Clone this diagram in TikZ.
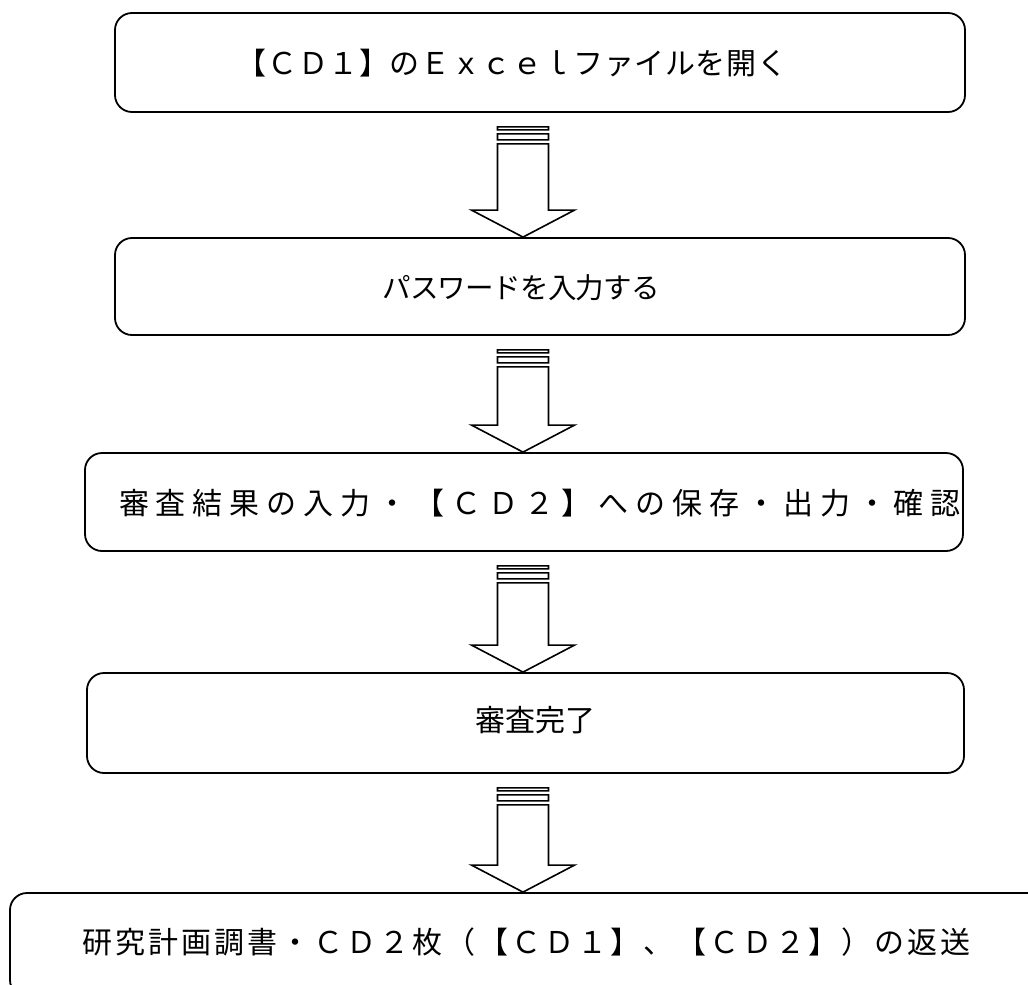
\documentclass[tikz,border=0pt]{standalone}
\usepackage{fontspec}
\newfontfamily\jp{Noto Sans CJK JP}
\usetikzlibrary{calc}
\tikzset{
  stepbox/.style={draw=black, line width=1.8pt, rounded corners=17pt, inner sep=0pt},
  steptext/.style={inner sep=0pt, font=\jp\fontsize{30}{32}\selectfont},
  flowline/.style={draw=black, line width=1.6pt, fill=white, line join=miter},
}
\newcommand\flowarrow[2]{%
  \draw[flowline] let \p1=(ax |- #1.south), \p2=(ax |- #2.north) in
    (\x1-25.5pt,\y1-14pt) rectangle (\x1+25.5pt,\y1-17pt)
    (\x1-25.5pt,\y1-21pt) rectangle (\x1+25.5pt,\y1-27pt)
    (\x1-25.5pt,\y1-31pt) -- (\x1-25.5pt,\y2+27pt) -- (\x1-51.5pt,\y2+27pt)
    -- (\x2,\y2) -- (\x1+51.5pt,\y2+27pt) -- (\x1+25.5pt,\y2+27pt)
    -- (\x1+25.5pt,\y1-31pt) -- cycle;}
\begin{document}
\begin{tikzpicture}[x=1pt,y=-1pt]
\useasboundingbox (0,0) rectangle (1028,985);
\coordinate (ax) at (523,0);
\node[stepbox, minimum width=850pt, minimum height=99pt] (b1) at (540,62.5) {};
\node[stepbox, minimum width=850pt, minimum height=97pt] (b2) at (540,286.5) {};
\node[stepbox, minimum width=878pt, minimum height=98pt] (b3) at (524,502) {};
\node[stepbox, minimum width=877pt, minimum height=100pt] (b4) at (525.5,723) {};
\begin{scope}
\clip (0,0) rectangle (1028,985);
\node[stepbox, minimum width=1040pt, minimum height=104pt] (b5) at (530,945) {};
\end{scope}
\node[steptext] (t1) at (512,63) {\addfontfeature{LetterSpace=2}【ＣＤ１】のＥｘｃｅｌファイルを開く};
\node[steptext, font=\jp\fontsize{28.5}{30}\selectfont] (t2) at (521,288) {\addfontfeature{LetterSpace=-3}パスワードを入力する};
\node[steptext] (t3) at (540,503) {\addfontfeature{LetterSpace=23}審査結果の入力・【ＣＤ２】への保存・出力・確認};
\node[steptext] (t4) at (535,720) {審査完了};
\node[steptext] (t5) at (526,942) {\addfontfeature{LetterSpace=10}研究計画調書・ＣＤ２枚（【ＣＤ１】、【ＣＤ２】）の返送};
\flowarrow{b1}{b2}
\flowarrow{b2}{b3}
\flowarrow{b3}{b4}
\flowarrow{b4}{b5}
\end{tikzpicture}
\end{document}
